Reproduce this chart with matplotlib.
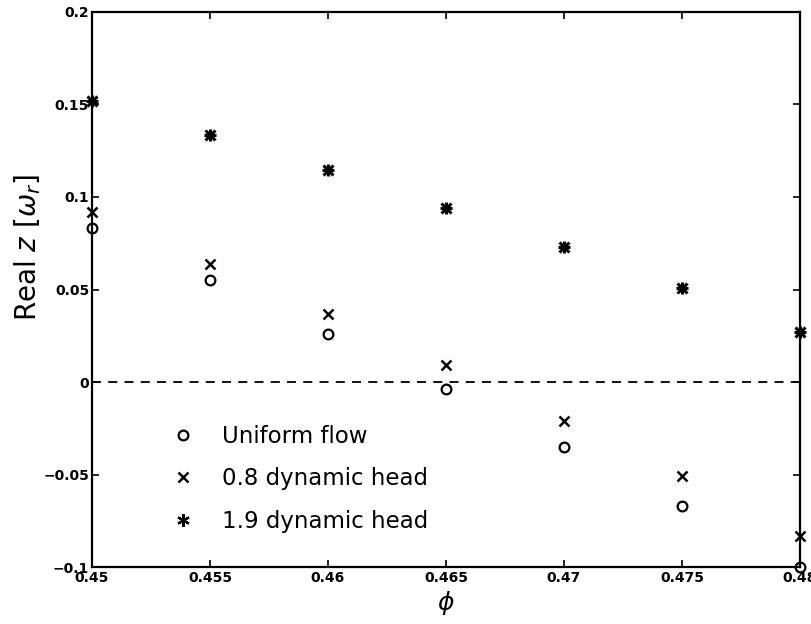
import matplotlib
matplotlib.use("Agg")
import matplotlib.pyplot as plt
from matplotlib.lines import Line2D

phi = [0.45, 0.455, 0.46, 0.465, 0.47, 0.475, 0.48]
uniform = [0.083, 0.055, 0.026, -0.004, -0.035, -0.067, -0.100]
head_08 = [0.092, 0.064, 0.037, 0.009, -0.021, -0.051, -0.083]
head_19 = [0.152, 0.1335, 0.1145, 0.094, 0.073, 0.051, 0.027]

xticks = [0.45, 0.455, 0.46, 0.465, 0.47, 0.475, 0.48]
xticklabels = ["0.45", "0.455", "0.46", "0.465", "0.47", "0.475", "0.48"]
yticks = [-0.1, -0.05, 0, 0.05, 0.1, 0.15, 0.2]
yticklabels = ["\u22120.1", "\u22120.05", "0", "0.05", "0.1", "0.15", "0.2"]

fig = plt.figure(figsize=(8.12, 6.24), dpi=100)
ax = fig.add_axes([0.1133, 0.0913, 0.8719, 0.8895])

ax.axhline(0, color="black", lw=1.3, ls=(0, (5, 4)), zorder=1)

ax.plot(phi, uniform, ls="none", marker="o", ms=7, mfc="none", mec="black",
        mew=1.6, clip_on=False, zorder=3)
ax.plot(phi, head_08, ls="none", marker="x", ms=7, mec="black", mew=1.8,
        clip_on=False, zorder=3)
# asterisk drawn as x and + on top of each other
ax.plot(phi, head_19, ls="none", marker="x", ms=7, mec="black", mew=2.2,
        clip_on=False, zorder=3)
ax.plot(phi, head_19, ls="none", marker="+", ms=8, mec="black", mew=2.2,
        clip_on=False, zorder=3)

ax.set_xlim(0.45, 0.48)
ax.set_ylim(-0.1, 0.2)
ax.set_xticks(xticks)
ax.set_xticklabels(xticklabels, fontsize=10, fontweight="bold")
ax.set_yticks(yticks)
ax.set_yticklabels(yticklabels, fontsize=10, fontweight="bold")
ax.tick_params(direction="in", top=True, right=True, length=5, width=1.2, pad=3)
ax.tick_params(axis="y", pad=2)
for s in ax.spines.values():
    s.set_linewidth(1.6)

ax.set_xlabel(r"$\phi$", fontsize=18)
ax.xaxis.set_label_coords(0.5, -0.04)
ax.set_ylabel(r"Real $z$ [$\omega_r$]", fontsize=20)
ax.yaxis.set_label_coords(-0.069, 0.575)

handles = [
    Line2D([], [], ls="none", marker="o", ms=7, mfc="none", mec="black", mew=1.6),
    Line2D([], [], ls="none", marker="x", ms=7, mec="black", mew=1.8),
    Line2D([], [], ls="none", marker=(6, 2, 0), ms=9, mec="black", mew=1.6),
]
labels = ["Uniform flow", "0.8 dynamic head", "1.9 dynamic head"]
ax.legend(handles, labels, loc="upper left", bbox_to_anchor=(0.096, 0.277),
          frameon=False, fontsize=16.5, handlelength=1.0, handletextpad=1.2,
          labelspacing=0.85, borderpad=0)

fig.savefig("out.png", dpi=100)
